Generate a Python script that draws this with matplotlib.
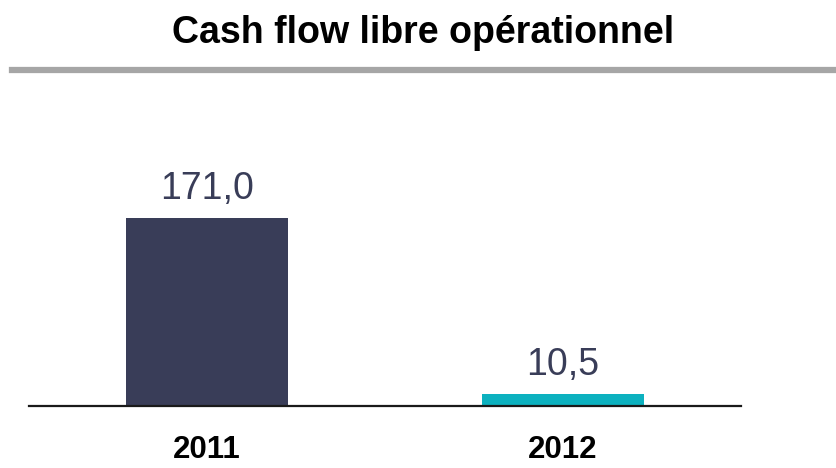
import matplotlib.pyplot as plt
from matplotlib.lines import Line2D

# Data
years = ['2011', '2012']
values = [171.0, 10.5]
value_labels = ['171,0', '10,5']
bar_colors = ['#393d58', '#0cb1bf']

plt.rcParams['font.family'] = ['Liberation Sans', 'DejaVu Sans']

fig = plt.figure(figsize=(8.37, 4.68), dpi=100)
ax = fig.add_axes([29 / 837, 62 / 468, 712 / 837, 306 / 468])

x = list(range(len(years)))
ax.bar(x, values, width=0.455, color=bar_colors, zorder=2)

ax.set_xlim(-0.5, 1.5)
ax.set_ylim(0, 171 * 306 / 188)

# value labels above bars
for i, v in enumerate(values):
    ax.annotate(value_labels[i], xy=(i, v), xytext=(0, 13.7), textcoords='offset points',
                ha='center', va='baseline', fontsize=27, color='#393d58')

# category labels under the baseline
for i, yr in enumerate(years):
    ax.annotate(yr, xy=(i, 0), xytext=(0, -37.4), textcoords='offset points',
                ha='center', va='baseline', fontsize=22.5, fontweight='bold', color='black',
                annotation_clip=False)

for s in ['top', 'right', 'left']:
    ax.spines[s].set_visible(False)
ax.spines['bottom'].set_linewidth(1.6)
ax.spines['bottom'].set_color('#1a1a1a')
ax.spines['bottom'].set_zorder(3)
ax.set_xticks([])
ax.set_yticks([])

# title and grey rule under it
fig.text(423 / 837, (468 - 43) / 468, 'Cash flow libre opérationnel', ha='center', va='baseline',
         fontsize=27, fontweight='bold', color='black')
fig.add_artist(Line2D([12 / 837, 1.0], [(468 - 70) / 468] * 2, transform=fig.transFigure,
                      color='#a6a6a6', linewidth=4.5))

plt.savefig('out.png', dpi=100)
